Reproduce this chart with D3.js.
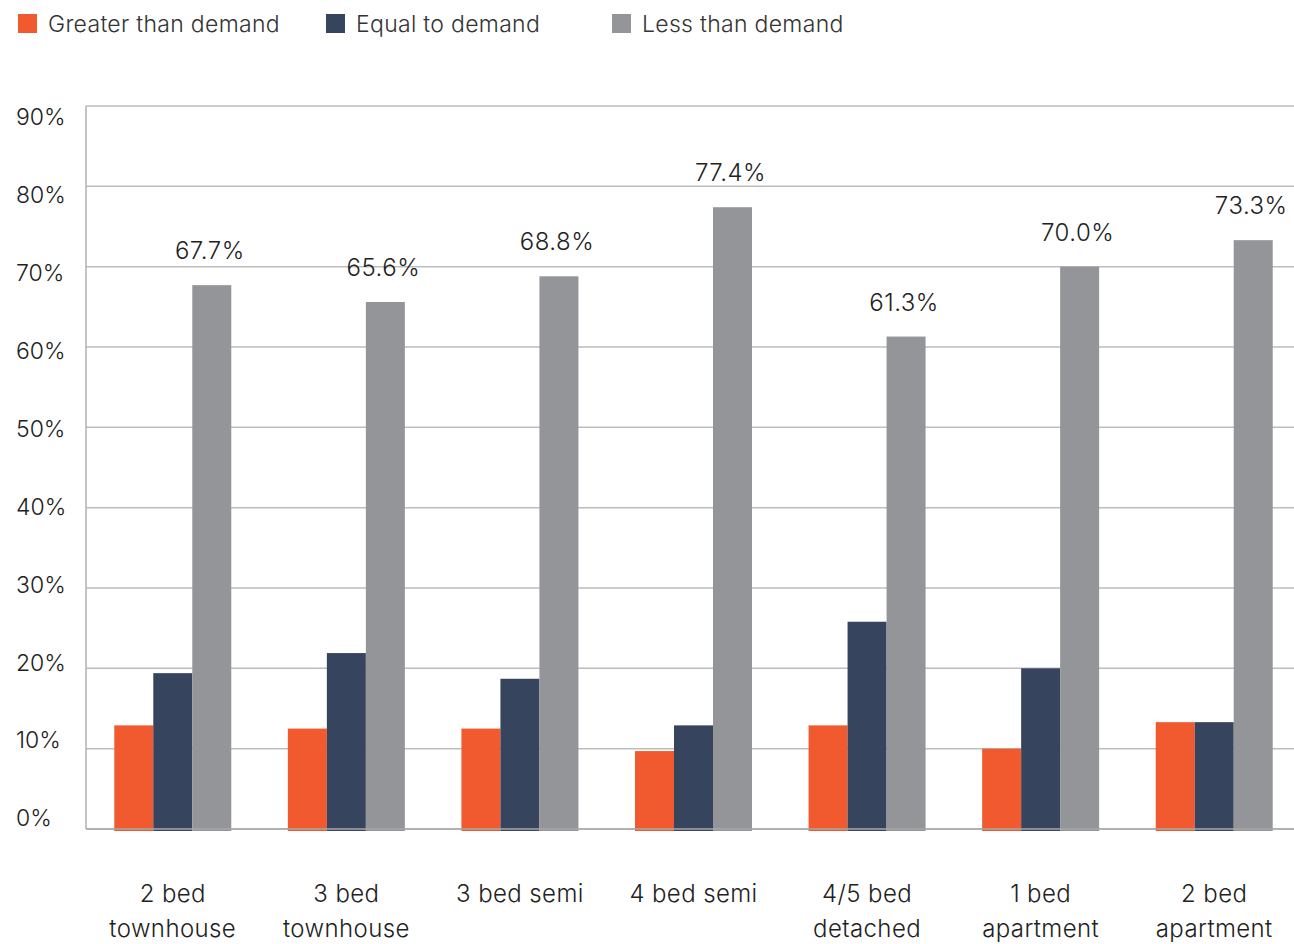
<!DOCTYPE html>
<meta charset="utf-8">
<style>
body { margin: 0; background: #fff; }
text { font-family: "Inter", "Open Sans", sans-serif; font-weight: 300; fill: #222; }
.grid line { stroke: #bdbdbd; stroke-width: 1.5px; }
</style>
<body>
<svg id="chart" width="1294" height="944"></svg>
<script src="https://d3js.org/d3.v7.min.js"></script>
<script>

var categories = [["2 bed", "townhouse"], ["3 bed", "townhouse"], ["3 bed semi"], ["4 bed semi"],
                  ["4/5 bed", "detached"], ["1 bed", "apartment"], ["2 bed", "apartment"]];
var seriesNames = ["Greater than demand", "Equal to demand", "Less than demand"];
var greater = [12.9, 12.5, 12.5, 9.7, 12.9, 10.0, 13.3];
var equal   = [19.4, 21.9, 18.7, 12.9, 25.8, 20.0, 13.3];
var less    = [67.7, 65.6, 68.8, 77.4, 61.3, 70.0, 73.3];
var yTicks  = [0, 10, 20, 30, 40, 50, 60, 70, 80, 90];

var colors = ["#f15a2e", "#36445e", "#939599"];
var series = [greater, equal, less];

var svg = d3.select("#chart");

var x = d3.scaleBand()
    .domain(d3.range(categories.length))
    .range([86, 1301]);

var xInner = d3.scaleBand()
    .domain(d3.range(3))
    .range([0, 117]);

var y = d3.scaleLinear()
    .domain([0, 90])
    .range([829, 106]);

// tick labels sit a bit inside the gridlines at the ends
var yLabel = d3.scaleLinear()
    .domain([0, 90])
    .range([818, 117]);

// gridlines
svg.append("g")
    .attr("class", "grid")
  .selectAll("line")
  .data(yTicks)
  .enter().append("line")
    .attr("x1", 86)
    .attr("x2", 1294)
    .attr("y1", function(d) { return y(d); })
    .attr("y2", function(d) { return y(d); });

svg.append("line")
    .attr("x1", 86).attr("x2", 86)
    .attr("y1", y(90)).attr("y2", y(0))
    .attr("stroke", "#b0b0b0")
    .attr("stroke-width", 1.5);

svg.append("g")
  .selectAll("text")
  .data(yTicks)
  .enter().append("text")
    .attr("x", 16)
    .attr("y", function(d) { return yLabel(d); })
    .attr("dy", "0.36em")
    .style("font-size", "23px")
    .text(function(d) { return d + "%"; });

// bars
var groups = svg.append("g")
  .selectAll("g")
  .data(categories)
  .enter().append("g")
    .attr("transform", function(d, i) {
      return "translate(" + (x(i) + x.bandwidth() / 2 - 58.5) + ",0)";
    });

groups.selectAll("rect")
  .data(function(d, i) { return series.map(function(s) { return s[i]; }); })
  .enter().append("rect")
    .attr("x", function(d, j) { return xInner(j); })
    .attr("width", xInner.bandwidth())
    .attr("y", function(d) { return y(d); })
    .attr("height", function(d) { return y(0) - y(d) + 2; })
    .attr("fill", function(d, j) { return colors[j]; });

// baseline over bars
svg.append("line")
    .attr("x1", 86).attr("x2", 1294)
    .attr("y1", y(0)).attr("y2", y(0))
    .attr("stroke", "#a8a8a8")
    .attr("stroke-width", 1.5);

// value labels on the "less" bars
groups.append("text")
    .attr("x", xInner(2) + xInner.bandwidth() / 2 - 2)
    .attr("y", function(d, i) { return y(less[i]) - 26; })
    .attr("text-anchor", "middle")
    .style("font-size", "24px")
    .style("letter-spacing", "0.5px")
    .text(function(d, i) { return less[i].toFixed(1) + "%"; });

// category labels
svg.append("g")
  .selectAll("text")
  .data(categories)
  .enter().append("text")
    .attr("text-anchor", "middle")
    .attr("y", 902)
    .style("font-size", "24px")
    .style("letter-spacing", "0.4px")
    .each(function(d, i) {
      var t = d3.select(this);
      d.forEach(function(line, k) {
        t.append("tspan")
          .attr("x", x(i) + x.bandwidth() / 2)
          .attr("dy", k === 0 ? 0 : 35)
          .text(line);
      });
    });

// legend
var legendX = [18, 326, 612];
var legend = svg.append("g")
  .selectAll("g")
  .data(seriesNames)
  .enter().append("g")
    .attr("transform", function(d, i) { return "translate(" + legendX[i] + ",14)"; });

legend.append("rect")
    .attr("width", 19)
    .attr("height", 19)
    .attr("fill", function(d, i) { return colors[i]; });

legend.append("text")
    .attr("x", 30)
    .attr("y", 10)
    .attr("dy", "0.36em")
    .style("font-size", "23px")
    .style("letter-spacing", "0.3px")
    .style("fill", "#333")
    .text(function(d) { return d; });

</script>
</body>
